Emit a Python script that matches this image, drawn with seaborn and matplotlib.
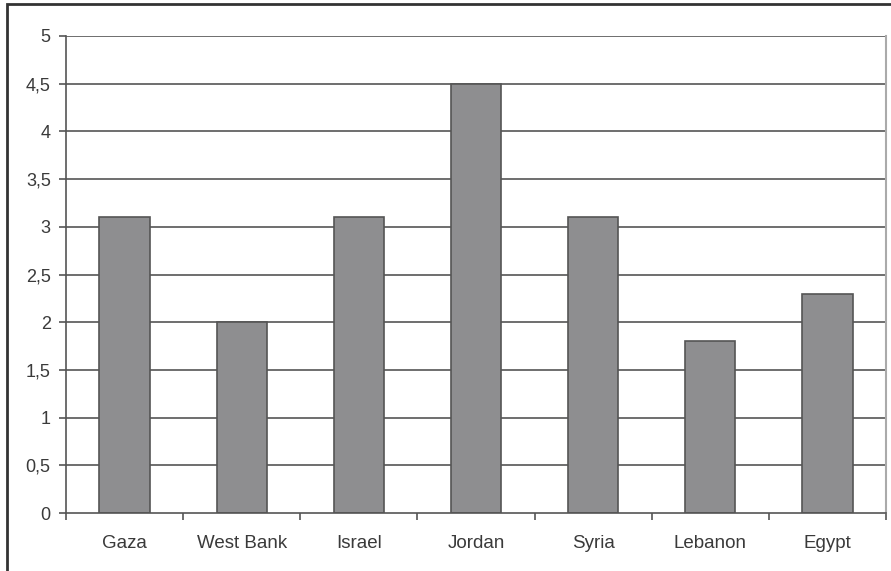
import matplotlib
matplotlib.use("Agg")
import matplotlib.pyplot as plt
import seaborn as sns
import pandas as pd
import numpy as np
from matplotlib.patches import Rectangle

categories = ["Gaza", "West Bank", "Israel", "Jordan", "Syria", "Lebanon", "Egypt"]
values = [3.1, 2.0, 3.1, 4.5, 3.1, 1.8, 2.3]
y_ticks = [0, 0.5, 1, 1.5, 2, 2.5, 3, 3.5, 4, 4.5, 5]
y_tick_labels = ["0", "0,5", "1", "1,5", "2", "2,5", "3", "3,5", "4", "4,5", "5"]

sns.set_style("white")
plt.rcParams["font.family"] = ["Liberation Sans", "DejaVu Sans"]

df = pd.DataFrame({"region": categories, "value": values})

fig = plt.figure(figsize=(8.91, 5.71), dpi=100)
ax = fig.add_axes([66/891, 1-513/571, (886-66)/891, (513-36)/571])

ax.set_axisbelow(True)
for y in y_ticks[1:]:
    ax.axhline(y, color="#555555", lw=1.2, zorder=0)

sns.barplot(data=df, x="region", y="value", color="#8e8e90", edgecolor="#555555",
            linewidth=1.2, width=0.43, saturation=1, ax=ax, zorder=2)

ax.set_ylim(0, 5)
ax.set_xlim(-0.5, len(categories) - 0.5)
ax.set_yticks(y_ticks)
ax.set_yticklabels(y_tick_labels)
ax.set_xticks(np.arange(len(categories)))
ax.set_xticklabels(categories)
ax.set_xlabel("")
ax.set_ylabel("")

# x ticks at category boundaries
ax.set_xticks(np.arange(len(categories) + 1) - 0.5, minor=True)
ax.tick_params(axis="x", which="major", length=0, pad=16, labelsize=13.5, labelcolor="#3a3a3a")
ax.tick_params(axis="x", which="minor", length=5, width=1.2, color="#555555", direction="out")
ax.tick_params(axis="y", length=5, width=1.2, color="#555555", direction="out",
               labelsize=13, labelcolor="#3a3a3a", pad=6)
ax.tick_params(axis="both", which="both", bottom=True, left=True)

ax.spines["top"].set_visible(False)
ax.spines["left"].set_color("#555555")
ax.spines["left"].set_linewidth(1.2)
ax.spines["bottom"].set_color("#555555")
ax.spines["bottom"].set_linewidth(1.2)
ax.spines["right"].set_color("#aaaaaa")
ax.spines["right"].set_linewidth(1.5)

# outer frame around the chart
fig.patches.append(Rectangle((7/891, -0.2), 1.5, 1.2 - 4/571, transform=fig.transFigure,
                             fill=False, edgecolor="#333333", linewidth=2, clip_on=False))

fig.savefig("out.png", dpi=100)
